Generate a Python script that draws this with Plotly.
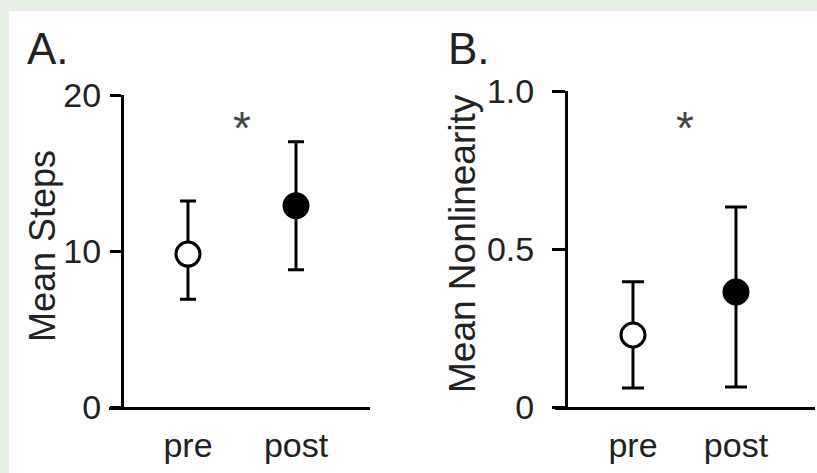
import plotly.graph_objects as go

W, H = 817, 473

groups = ["pre", "post"]

steps_mean = [9.8, 12.9]
steps_upper = [13.2, 17.0]
steps_lower = [6.9, 8.8]

nonlin_mean = [0.228, 0.364]
nonlin_upper = [0.396, 0.633]
nonlin_lower = [0.06, 0.063]

steps_ticks = [0, 10, 20]
steps_ticktext = ["0", "10", "20"]
nonlin_ticks = [0, 0.5, 1.0]
nonlin_ticktext = ["0", "0.5", "1.0"]

marker_fill = ["white", "black"]

FONT = "Liberation Sans, Arial, sans-serif"
BG = "#e6f0e4"
px = lambda v: v / W
py = lambda v: (H - v) / H

fig = go.Figure()

def add_panel(xa, ya, means, upper, lower, capw):
    fig.add_trace(go.Scatter(
        x=groups, y=means, xaxis=xa, yaxis=ya, mode="markers",
        marker=dict(size=24, color=marker_fill, line=dict(color="black", width=3)),
        error_y=dict(type="data", symmetric=False,
                     array=[u - m for u, m in zip(upper, means)],
                     arrayminus=[m - l for m, l in zip(means, lower)],
                     color="black", thickness=3, width=capw),
        showlegend=False, cliponaxis=False, hoverinfo="skip",
    ))

add_panel("x", "y", steps_mean, steps_upper, steps_lower, 8)
add_panel("x2", "y2", nonlin_mean, nonlin_upper, nonlin_lower, 11)

common_x = dict(type="category", showline=True, linecolor="black", linewidth=3,
                ticks="", showgrid=False, zeroline=False, automargin=False,
                tickfont=dict(family=FONT, size=34, color="#222"),
                ticklabelstandoff=6)
common_y = dict(showline=True, linecolor="black", linewidth=3, ticks="outside",
                ticklen=11, tickwidth=3, tickcolor="black", showgrid=False,
                zeroline=False, automargin=False,
                tickfont=dict(family=FONT, size=34, color="#222"))

def label(text, x, y, size=34, angle=0, xa="center", ya="middle", color="#222"):
    return dict(text=text, x=px(x), y=py(y), xref="paper", yref="paper",
                xanchor=xa, yanchor=ya, textangle=angle, showarrow=False,
                font=dict(family=FONT, size=size, color=color))

fig.update_layout(
    width=W, height=H, margin=dict(l=0, r=0, t=0, b=0, autoexpand=False),
    paper_bgcolor=BG, plot_bgcolor="rgba(0,0,0,0)",
    xaxis=dict(common_x, domain=[px(109), px(370)], range=[-0.731, 1.685], anchor="y"),
    yaxis=dict(common_y, domain=[py(407), py(95)], range=[0, 20], anchor="free",
               position=px(122), tickvals=steps_ticks, ticktext=steps_ticktext,
               ticklabelstandoff=2),
    xaxis2=dict(common_x, domain=[px(555), px(815)], range=[-0.757, 1.767], anchor="y2"),
    yaxis2=dict(common_y, domain=[py(407), py(91)], range=[0, 1.0], anchor="free",
                position=px(566), tickvals=nonlin_ticks, ticktext=nonlin_ticktext,
                ticklabelstandoff=11, ticklen=13),
    shapes=[dict(type="rect", xref="paper", yref="paper", x0=px(9), x1=1.0,
                 y0=0, y1=py(11), fillcolor="white", line=dict(width=0), layer="below")],
    annotations=[
        label("A.", 25, 75, size=44, xa="left", ya="bottom"),
        label("B.", 446, 75, size=44, xa="left", ya="bottom"),
        label("Mean Steps", 42, 246, size=36, angle=-90),
        label("Mean Nonlinearity", 462, 244, size=37, angle=-90),
        label("*", 242, 128, size=46, color="#444"),
        label("*", 685, 128, size=46, color="#444"),
    ],
)

fig.write_html(
    "out.html",
    config={"displayModeBar": False},
    post_script="document.body.style.margin='0';document.body.style.overflow='hidden';"
                "document.body.style.background='%s';" % BG,
)
